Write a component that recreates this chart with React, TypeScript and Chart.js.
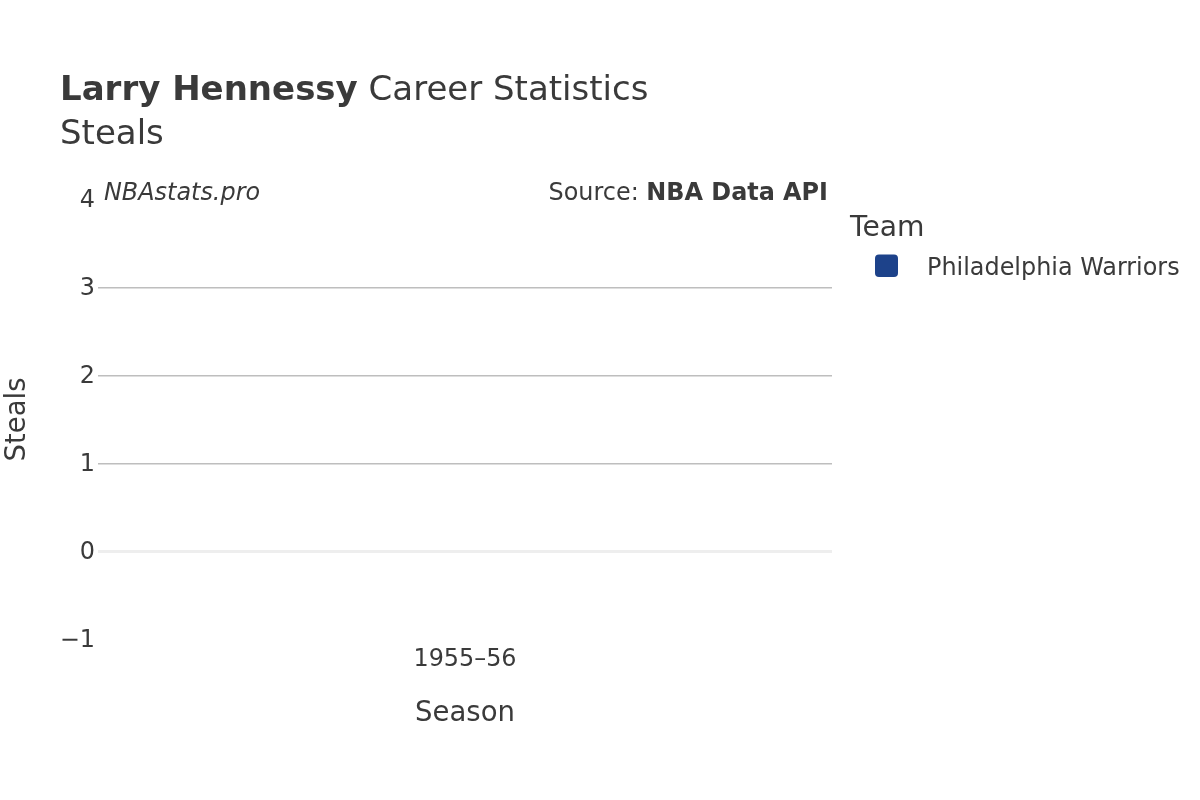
import React, { useEffect, useRef } from "react";
import { Chart, registerables } from "chart.js";

Chart.register(...registerables);

const seasons: string[] = ["1955–56"];
const steals: (number | null)[] = [null];
const teamName = "Philadelphia Warriors";
const teamColor = "#1D428A";
const yTicks: number[] = [-1, 0, 1, 2, 3, 4];

const FONT = "DejaVu Sans";
const TEXT = "#3a3a3a";
const SMALL = 23.9;

const overlay = {
  id: "overlay",
  afterDraw(chart: any) {
    const ctx: CanvasRenderingContext2D = chart.ctx;
    const area = chart.chartArea;
    ctx.save();
    ctx.fillStyle = TEXT;
    ctx.textBaseline = "alphabetic";
    ctx.textAlign = "left";

    // Title
    ctx.font = `bold 34px "${FONT}"`;
    const boldPart = "Larry Hennessy";
    ctx.fillText(boldPart, 60, 99.5);
    const w = ctx.measureText(boldPart).width;
    ctx.font = `34px "${FONT}"`;
    ctx.fillText(" Career Statistics", 60 + w, 99.5);
    ctx.fillText("Steals", 60, 143.5);

    // Watermark + source
    ctx.font = `italic ${SMALL}px "${FONT}"`;
    ctx.fillText("NBAstats.pro", 104, 200);
    ctx.textAlign = "right";
    ctx.font = `bold ${SMALL}px "${FONT}"`;
    const bold2 = "NBA Data API";
    ctx.fillText(bold2, 828, 200);
    const w2 = ctx.measureText(bold2).width;
    ctx.font = `${SMALL}px "${FONT}"`;
    ctx.fillText("Source: ", 828 - w2, 200);

    // Axis titles
    ctx.textAlign = "center";
    ctx.font = `27.5px "${FONT}"`;
    ctx.fillText("Season", (area.left + area.right) / 2, 721);
    ctx.save();
    ctx.translate(25, (area.top + area.bottom) / 2);
    ctx.rotate(-Math.PI / 2);
    ctx.fillText("Steals", 0, 0);
    ctx.restore();

    // Legend
    ctx.textAlign = "left";
    ctx.font = `28.2px "${FONT}"`;
    ctx.fillText("Team", 850, 236);
    const ds = chart.data.datasets[0];
    ctx.fillStyle = ds.backgroundColor;
    ctx.beginPath();
    (ctx as any).roundRect(875, 254.5, 23, 22.5, 4);
    ctx.fill();
    ctx.fillStyle = TEXT;
    ctx.font = `${SMALL}px "${FONT}"`;
    ctx.fillText(ds.label, 927, 274.5);
    ctx.restore();
  },
};

export default function App() {
  const ref = useRef<HTMLCanvasElement | null>(null);
  useEffect(() => {
    if (!ref.current) return;
    const chart = new Chart(ref.current, {
      type: "bar",
      data: {
        labels: seasons,
        datasets: [
          {
            label: teamName,
            data: steals,
            backgroundColor: teamColor,
          },
        ],
      },
      options: {
        animation: false,
        responsive: false,
        maintainAspectRatio: false,
        layout: { padding: { left: 0, top: 199.5, right: 368, bottom: 0 } },
        plugins: {
          legend: { display: false },
          title: { display: false },
          tooltip: { enabled: false },
        },
        scales: {
          x: {
            type: "category",
            grid: { display: false, drawTicks: false },
            border: { display: false },
            ticks: {
              font: { family: FONT, size: SMALL },
              color: TEXT,
              padding: 6,
              maxRotation: 0,
            },
            afterFit(scale: any) {
              scale.height = 160.5;
            },
          },
          y: {
            min: -1,
            max: 4,
            afterBuildTicks(scale: any) {
              scale.ticks = yTicks.map((v) => ({ value: v }));
            },
            grid: {
              drawTicks: false,
              color: (c: any) => {
                const v = c.tick ? c.tick.value : null;
                if (v === 0) return "#eeeeee";
                if (v === 4 || v === -1) return "rgba(0,0,0,0)";
                return "#bebebe";
              },
              lineWidth: (c: any) => (c.tick && c.tick.value === 0 ? 3 : 1.5),
            },
            border: { display: false },
            ticks: {
              font: { family: FONT, size: SMALL },
              color: TEXT,
              padding: 3,
              labelOffset: 1.5,
              callback: (v: any) => (Number(v) < 0 ? "\u2212" + Math.abs(Number(v)) : String(v)),
            },
            afterFit(scale: any) {
              scale.width = 98;
            },
          },
        },
      },
      plugins: [overlay],
    });
    return () => chart.destroy();
  }, []);
  return (
    <div style={{ position: "absolute", left: 0, top: 0, width: 1200, height: 800, background: "#fff" }}>
      <canvas ref={ref} width={1200} height={800} style={{ width: 1200, height: 800 }} />
    </div>
  );
}
